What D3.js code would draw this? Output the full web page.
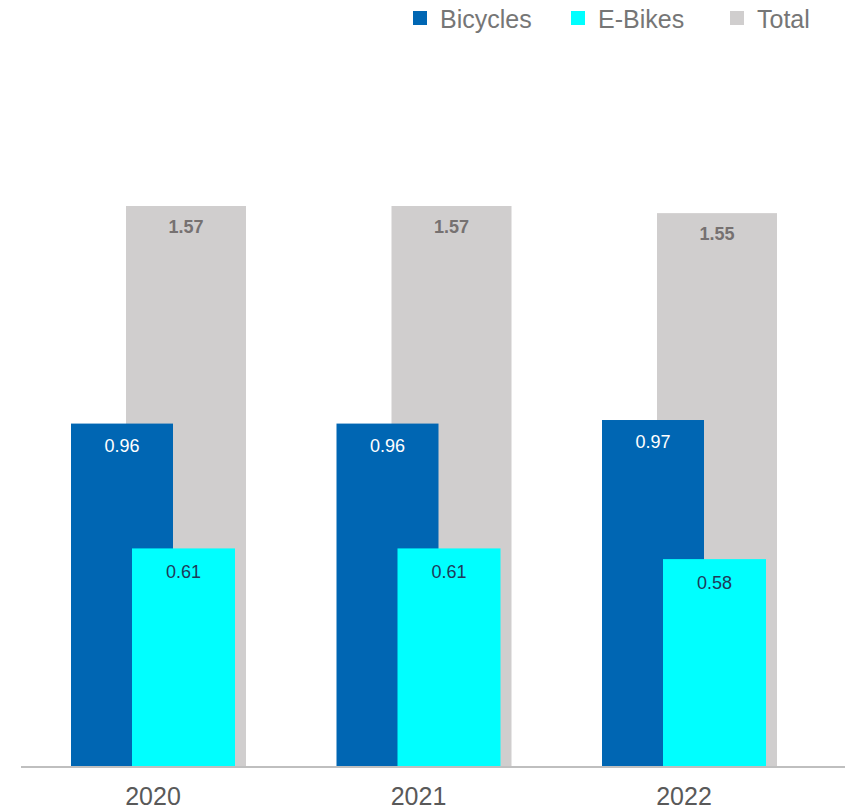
<!DOCTYPE html>
<html>
<head>
<meta charset="utf-8">
<script src="https://cdn.jsdelivr.net/npm/d3@7"></script>
<style>
  body { margin: 0; background: #fff; }
  text { font-family: "Liberation Sans", Arial, sans-serif; }
</style>
</head>
<body>
<svg id="chart"></svg>
<script>
// values
var years = ["2020", "2021", "2022"];
var bicycles = [0.96, 0.96, 0.97];
var eBikes = [0.61, 0.61, 0.58];
var totals = [1.57, 1.57, 1.55];
var seriesNames = ["Bicycles", "E-Bikes", "Total"];
var colors = ["#0066B3", "#00FFFF", "#D0CECE"];

var svgWidth = 845, svgHeight = 810;
var baseY = 766;

var svg = d3.select("#chart")
            .attr("width", svgWidth)
            .attr("height", svgHeight);

var x = d3.scaleBand()
          .domain(years)
          .range([71, 71 + 265.5 * 3])
          .padding(0);

var y = d3.scaleLinear()
          .domain([0, 1.57])
          .range([baseY, 206]);

// bar layout inside each year band
var layout = {
  Bicycles: { off: 0, w: 102 },
  "E-Bikes": { off: 61, w: 103 },
  Total: { off: 55, w: 120 }
};

var rows = years.map(function(yr, i) {
  return { year: yr, Bicycles: bicycles[i], "E-Bikes": eBikes[i], Total: totals[i] };
});

// draw order: total behind, then bicycles, then e-bikes
["Total", "Bicycles", "E-Bikes"].forEach(function(key) {
  var c = colors[seriesNames.indexOf(key)];
  svg.append("g").selectAll("rect")
     .data(rows)
     .join("rect")
     .attr("x", function(d) { return x(d.year) + layout[key].off; })
     .attr("width", layout[key].w)
     .attr("y", function(d) { return y(d[key]); })
     .attr("height", function(d) { return baseY - y(d[key]); })
     .attr("fill", c);
});

// axis line
svg.append("line")
   .attr("x1", 21).attr("x2", 845)
   .attr("y1", baseY + 1).attr("y2", baseY + 1)
   .attr("stroke", "#BFBFBF")
   .attr("stroke-width", 2);

// value labels
var labelStyle = {
  Total: { dy: 27, fill: "#767171", weight: "bold", size: 18 },
  Bicycles: { dy: 28, fill: "#FFFFFF", weight: "normal", size: 18 },
  "E-Bikes": { dy: 30, fill: "#1F3A5A", weight: "normal", size: 18 }
};

["Total", "Bicycles", "E-Bikes"].forEach(function(key) {
  var s = labelStyle[key];
  svg.append("g").selectAll("text")
     .data(rows)
     .join("text")
     .attr("x", function(d) { return x(d.year) + layout[key].off + layout[key].w / 2; })
     .attr("y", function(d) { return y(d[key]) + s.dy; })
     .attr("text-anchor", "middle")
     .attr("fill", s.fill)
     .attr("font-weight", s.weight)
     .attr("font-size", s.size)
     .text(function(d) { return d[key].toFixed(2); });
});

// x axis labels
var xAxis = d3.axisBottom(x).tickSize(0).tickPadding(0);
var gx = svg.append("g")
            .attr("transform", "translate(0," + baseY + ")")
            .call(xAxis);
gx.select(".domain").remove();
gx.selectAll(".tick")
  .attr("transform", function(d) { return "translate(" + (x(d) + 82) + ",0)"; });
gx.selectAll("text")
  .attr("y", 39)
  .attr("dy", 0)
  .attr("fill", "#595959")
  .attr("font-size", 25)
  .attr("font-family", "Liberation Sans, Arial, sans-serif");

// legend
var legendX = [413, 571, 730];
var legend = svg.append("g").selectAll("g")
                .data(seriesNames)
                .join("g")
                .attr("transform", function(d, i) { return "translate(" + legendX[i] + ",0)"; });
legend.append("rect")
      .attr("x", 0).attr("y", 11)
      .attr("width", 14).attr("height", 14)
      .attr("fill", function(d, i) { return colors[i]; });
legend.append("text")
      .attr("x", 27).attr("y", 28)
      .attr("fill", "#767676")
      .attr("font-size", 25)
      .text(function(d) { return d; });
</script>
</body>
</html>
